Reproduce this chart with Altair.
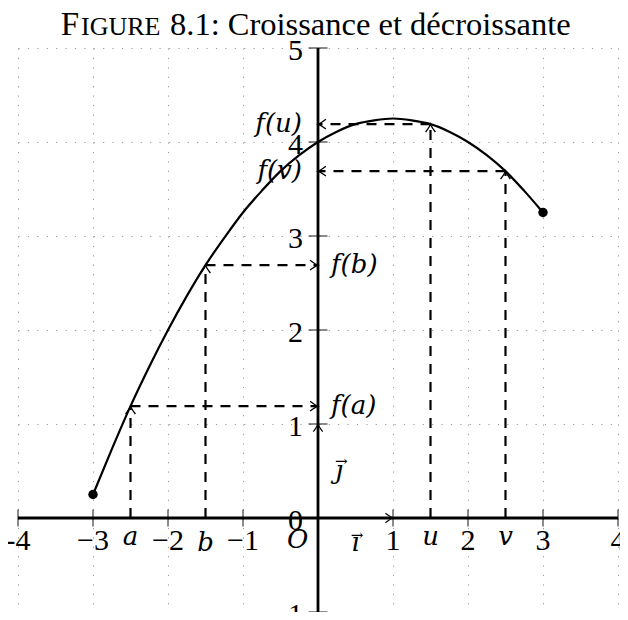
import altair as alt
import pandas as pd

# ---- data ----
curve_x = [-3, -2.75, -2.5, -2.25, -2, -1.75, -1.5, -1.25, -1, -0.75, -0.5, -0.25,
           0, 0.25, 0.5, 0.75, 1, 1.25, 1.5, 1.75, 2, 2.25, 2.5, 2.75, 3]
curve_y = [0.25, 0.73, 1.19, 1.61, 2.0, 2.36, 2.69, 2.98, 3.25, 3.48, 3.69, 3.86,
           4.0, 4.11, 4.19, 4.23, 4.25, 4.23, 4.19, 4.11, 4.0, 3.86, 3.69, 3.48, 3.25]

end_x = [-3, 3]
end_y = [0.25, 3.25]

pt_names = ["a", "b", "u", "v"]
pt_x = [-2.5, -1.5, 1.5, 2.5]
pt_y = [1.19, 2.69, 4.19, 3.69]
f_labels = ["f(a)", "f(b)", "f(u)", "f(v)"]

x_tick_vals = [-4, -3, -2, -1, 1, 2, 3, 4]
x_tick_text = ["-4", "\u22123", "\u22122", "\u22121", "1", "2", "3", "4"]
y_tick_vals = [-1, 1, 2, 3, 4, 5]
y_label_vals = [-1, 0, 1, 2, 3, 4, 5]
y_label_text = ["\u22121", "0", "1", "2", "3", "4", "5"]
grid_x = [-4, -3, -2, -1, 0, 1, 2, 3, 4]
grid_y = [-1, 0, 1, 2, 3, 4, 5]

title_parts = ["F", "IGURE", "8.1: Croissance et d\u00e9croissante"]

FONT = "Liberation Serif"
IFONT = "DejaVu Serif"
FS = 30
IFS = 26

xs = alt.Scale(domain=[-4, 4], nice=False, zero=False)
ys = alt.Scale(domain=[-1, 5], nice=False, zero=False)
xaxis = alt.Axis(values=grid_x, grid=True, gridDash=[1.2, 8.2], gridColor="#999999",
                 gridWidth=1, labels=False, ticks=False, domain=False, title=None)
yaxis = alt.Axis(values=grid_y, grid=True, gridDash=[1.2, 8.2], gridColor="#999999",
                 gridWidth=1, labels=False, ticks=False, domain=False, title=None)


def X(f):
    return alt.X(f, type="quantitative", scale=xs, axis=xaxis)


def Y(f):
    return alt.Y(f, type="quantitative", scale=ys, axis=yaxis)


def only(names):
    return alt.FieldOneOfPredicate(field="name", oneOf=names)


curve_df = pd.DataFrame({"x": curve_x, "y": curve_y})
end_df = pd.DataFrame({"x": end_x, "y": end_y})
pts_df = pd.DataFrame({"name": pt_names, "x": pt_x, "y": pt_y, "f": f_labels,
                       "zero": [0] * len(pt_x)})
xt_df = pd.DataFrame({"x": x_tick_vals, "t": x_tick_text, "zero": [0] * len(x_tick_vals)})
yt_df = pd.DataFrame({"y": y_tick_vals, "zero": [0] * len(y_tick_vals)})
yl_df = pd.DataFrame({"y": y_label_vals, "t": y_label_text, "zero": [0] * len(y_label_vals)})
zero_df = pd.DataFrame({"v": [0]})
vec_df = pd.DataFrame({"x0": [0, 0], "y0": [0, 0], "x1": [1, 0], "y1": [0, 1]})

# grid (through axes)
grid = alt.Chart(zero_df).mark_point(opacity=0).encode(x=X("v"), y=Y("v"))

# axes lines
x_axis_line = alt.Chart(zero_df).mark_rule(color="black", strokeWidth=2.8).encode(y=Y("v"))
y_axis_line = alt.Chart(zero_df).mark_rule(color="black", strokeWidth=2.8).encode(x=X("v"))

x_ticks = alt.Chart(xt_df).mark_tick(orient="vertical", size=17, thickness=1.3,
                                     color="black").encode(x=X("x"), y=Y("zero"))
y_ticks = alt.Chart(yt_df).mark_tick(orient="horizontal", size=19, thickness=1.3,
                                     color="black").encode(x=X("zero"), y=Y("y"))

# curve and end points
curve = alt.Chart(curve_df).mark_line(color="black", strokeWidth=2.2,
                                      interpolate="monotone").encode(x=X("x"), y=Y("y"))
ends = alt.Chart(end_df).mark_point(filled=True, color="black", size=90,
                                    opacity=1).encode(x=X("x"), y=Y("y"))

# dashed projections
dash = [10, 8]
vdash = alt.Chart(pts_df).mark_rule(color="black", strokeWidth=2.2, strokeDash=dash).encode(
    x=X("x"), y=Y("zero"), y2="y")
hdash = alt.Chart(pts_df).mark_rule(color="black", strokeWidth=2.2, strokeDash=dash).encode(
    x=X("x"), x2="zero", y=Y("y"))

ARROW = "M-1,-0.62 Q-0.35,-0.12 0,0 Q-0.35,0.12 -1,0.62"


def arrows(df, xf, yf, angle, size=250, width=1.4):
    return alt.Chart(df).mark_point(shape=ARROW, filled=False, color="black", size=size,
                                    strokeWidth=width, angle=angle, opacity=1).encode(
        x=X(xf), y=Y(yf))


up_arrows = arrows(pts_df, "x", "y", 270)
right_arrows = arrows(pts_df, "zero", "y", 0).transform_filter(only(["a", "b"]))
left_arrows = arrows(pts_df, "zero", "y", 180).transform_filter(only(["u", "v"]))

# base vectors i, j
vec = alt.Chart(vec_df).mark_rule(color="black", strokeWidth=1.1).encode(
    x=X("x0"), x2="x1", y=Y("y0"), y2="y1")
i_head = arrows(vec_df.iloc[[0]], "x1", "y1", 0, size=230, width=1.2)
j_head = arrows(vec_df.iloc[[1]], "x1", "y1", 270, size=230, width=1.2)

# labels
x_labels = alt.Chart(xt_df).mark_text(font=FONT, fontSize=FS, baseline="alphabetic",
                                      dy=32).encode(x=X("x"), y=Y("zero"), text="t:N")
letters_low = alt.Chart(pts_df).mark_text(font=IFONT, fontSize=IFS, fontStyle="italic",
                                          baseline="alphabetic", dy=27).encode(
    x=X("x"), y=Y("zero"), text="name:N").transform_filter(only(["a", "u", "v"]))
letters_high = alt.Chart(pts_df).mark_text(font=IFONT, fontSize=IFS, fontStyle="italic",
                                           baseline="alphabetic", dy=33).encode(
    x=X("x"), y=Y("zero"), text="name:N").transform_filter(only(["b"]))

y_labels = alt.Chart(yl_df).mark_text(font=FONT, fontSize=FS, align="right",
                                      baseline="alphabetic", dx=-15, dy=12).encode(
    x=X("zero"), y=Y("y"), text="t:N")

f_left = alt.Chart(pts_df).mark_text(font=IFONT, fontSize=IFS, fontStyle="italic",
                                     align="right", baseline="alphabetic", dx=-16, dy=8).encode(
    x=X("zero"), y=Y("y"), text="f:N").transform_filter(only(["u", "v"]))
f_right = alt.Chart(pts_df).mark_text(font=IFONT, fontSize=IFS, fontStyle="italic",
                                      align="left", baseline="alphabetic", dx=13, dy=8).encode(
    x=X("zero"), y=Y("y"), text="f:N").transform_filter(only(["a", "b"]))

origin_df = pd.DataFrame({"t": ["O"], "x": [-0.27], "y": [0]})
origin = alt.Chart(origin_df).mark_text(font=IFONT, fontSize=IFS, fontStyle="italic",
                                        baseline="alphabetic", dy=30).encode(
    x=X("x"), y=Y("y"), text="t:N")

ij_df = pd.DataFrame({"t": ["\u0131", "\u0237"], "x": [0.5, 0.28], "y": [0, 0.5]})
i_lab = alt.Chart(ij_df.iloc[[0]]).mark_text(font=IFONT, fontSize=IFS,
                                             fontStyle="italic", baseline="alphabetic",
                                             dy=33).encode(x=X("x"), y=Y("y"), text="t:N")
j_lab = alt.Chart(ij_df.iloc[[1]]).mark_text(font=IFONT, fontSize=IFS,
                                             fontStyle="italic", baseline="alphabetic",
                                             dy=8).encode(x=X("x"), y=Y("y"), text="t:N")
arr_df = pd.DataFrame({"t": ["\u2192", "\u2192"], "x": [0.52, 0.31], "y": [0, 0.5]})
i_arr = alt.Chart(arr_df.iloc[[0]]).mark_text(font="DejaVu Serif", fontSize=15,
                                              baseline="middle", dy=17).encode(
    x=X("x"), y=Y("y"), text="t:N")
j_arr = alt.Chart(arr_df.iloc[[1]]).mark_text(font="DejaVu Serif", fontSize=15,
                                              baseline="middle", dy=-10).encode(
    x=X("x"), y=Y("y"), text="t:N")

# title (small caps imitation)
t1 = alt.Chart(pd.DataFrame({"t": [title_parts[0]]})).mark_text(
    font=FONT, fontSize=33, align="right", baseline="alphabetic").encode(
    x=alt.value(61), y=alt.value(-13), text="t:N")
t2 = alt.Chart(pd.DataFrame({"t": [title_parts[1]]})).mark_text(
    font=FONT, fontSize=26, align="left", baseline="alphabetic").encode(
    x=alt.value(63), y=alt.value(-13), text="t:N")
t3 = alt.Chart(pd.DataFrame({"t": [title_parts[2]]})).mark_text(
    font=FONT, fontSize=32.5, align="left", baseline="alphabetic").encode(
    x=alt.value(152), y=alt.value(-13), text="t:N")

chart = alt.layer(
    grid, vdash, hdash, x_axis_line, y_axis_line, x_ticks, y_ticks, vec,
    curve, ends, up_arrows, right_arrows, left_arrows, i_head, j_head,
    x_labels, letters_low, letters_high, y_labels, f_left, f_right, origin,
    i_lab, j_lab, i_arr, j_arr, t1, t2, t3
).properties(
    width=600, height=564,
    autosize=alt.AutoSizeParams(type="none"),
    padding={"left": 10, "top": 40, "right": 2, "bottom": 0},
).configure_view(strokeWidth=0)

chart.save("out.html", embed_options={"renderer": "svg", "actions": False})
